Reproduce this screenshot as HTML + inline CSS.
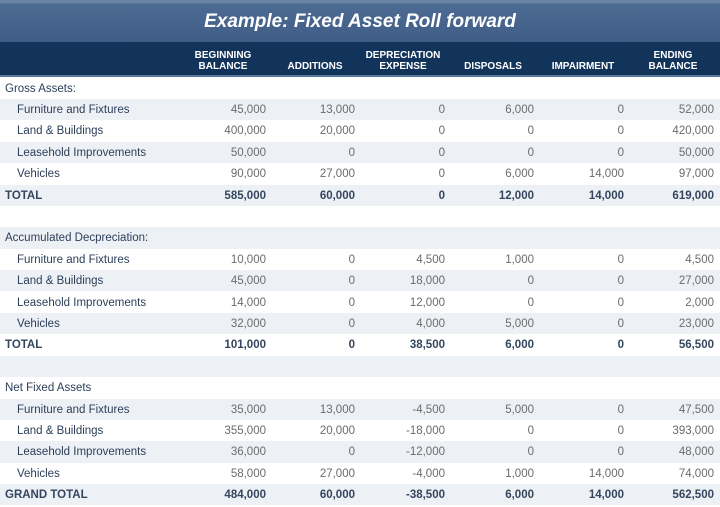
<!DOCTYPE html>
<html><head><meta charset="utf-8"><style>
body{margin:0;width:720px;height:506px;background:#fff;font-family:"Liberation Sans",sans-serif;overflow:hidden;position:relative}
.title{position:absolute;left:0;top:0;width:720px;height:42px;background:linear-gradient(#6a84a6 0,#6a84a6 3px,#4d6b93 4px,#3f5d86 42px);color:#fff;font-weight:bold;font-style:italic;font-size:19px;text-align:center;line-height:44px}
.hdr{position:absolute;left:0;top:42px;width:720px;height:33px;background:#13345a;border-bottom:2px solid #5a7aa0}
.h{position:absolute;color:#fff;font-weight:bold;font-size:10px;text-align:center;line-height:11px;width:100px}
.row{position:absolute;left:0;width:720px;height:21.4px;font-size:11.5px;line-height:22.4px}
.s{background:#edf1f6}
.l{position:absolute;left:5px;color:#2c3e58}
.in{left:17px}
.n{position:absolute;color:#6b6b6b;text-align:right;width:80px}
.b .l,.b .n{font-weight:bold;color:#34465e}
</style></head><body>
<div class="title">Example: Fixed Asset Roll forward</div>
<div class="hdr">
<div class="h" style="left:173px;top:8px">BEGINNING<br>BALANCE</div>
<div class="h" style="left:265px;top:19px">ADDITIONS</div>
<div class="h" style="left:353px;top:8px">DEPRECIATION<br>EXPENSE</div>
<div class="h" style="left:443px;top:19px">DISPOSALS</div>
<div class="h" style="left:533px;top:19px">IMPAIRMENT</div>
<div class="h" style="left:623px;top:8px">ENDING<br>BALANCE</div>
</div>
<div id="t"></div>
<script>
var rows=[
["Gross Assets:",0],
["Furniture and Fixtures",1,"45,000","13,000","0","6,000","0","52,000"],
["Land &amp; Buildings",1,"400,000","20,000","0","0","0","420,000"],
["Leasehold Improvements",1,"50,000","0","0","0","0","50,000"],
["Vehicles",1,"90,000","27,000","0","6,000","14,000","97,000"],
["TOTAL",2,"585,000","60,000","0","12,000","14,000","619,000"],
["",0],
["Accumulated Decpreciation:",0],
["Furniture and Fixtures",1,"10,000","0","4,500","1,000","0","4,500"],
["Land &amp; Buildings",1,"45,000","0","18,000","0","0","27,000"],
["Leasehold Improvements",1,"14,000","0","12,000","0","0","2,000"],
["Vehicles",1,"32,000","0","4,000","5,000","0","23,000"],
["TOTAL",2,"101,000","0","38,500","6,000","0","56,500"],
["",0],
["Net Fixed Assets",0],
["Furniture and Fixtures",1,"35,000","13,000","-4,500","5,000","0","47,500"],
["Land &amp; Buildings",1,"355,000","20,000","-18,000","0","0","393,000"],
["Leasehold Improvements",1,"36,000","0","-12,000","0","0","48,000"],
["Vehicles",1,"58,000","27,000","-4,000","1,000","14,000","74,000"],
["GRAND TOTAL",2,"484,000","60,000","-38,500","6,000","14,000","562,500"]];
var R=[266,355,445,534,624,714],h="";
rows.forEach(function(r,i){
h+='<div class="row'+(i%2?' s':'')+(r[1]==2?' b':'')+'" style="top:'+(77.5+i*21.4)+'px"><span class="l'+(r[1]==1?' in':'')+'">'+r[0]+'</span>';
for(var j=0;j<6;j++)if(r[j+2]!==undefined)h+='<span class="n" style="left:'+(R[j]-80)+'px">'+r[j+2]+'</span>';
h+='</div>';});
document.getElementById('t').innerHTML=h;
</script>
</body></html>
